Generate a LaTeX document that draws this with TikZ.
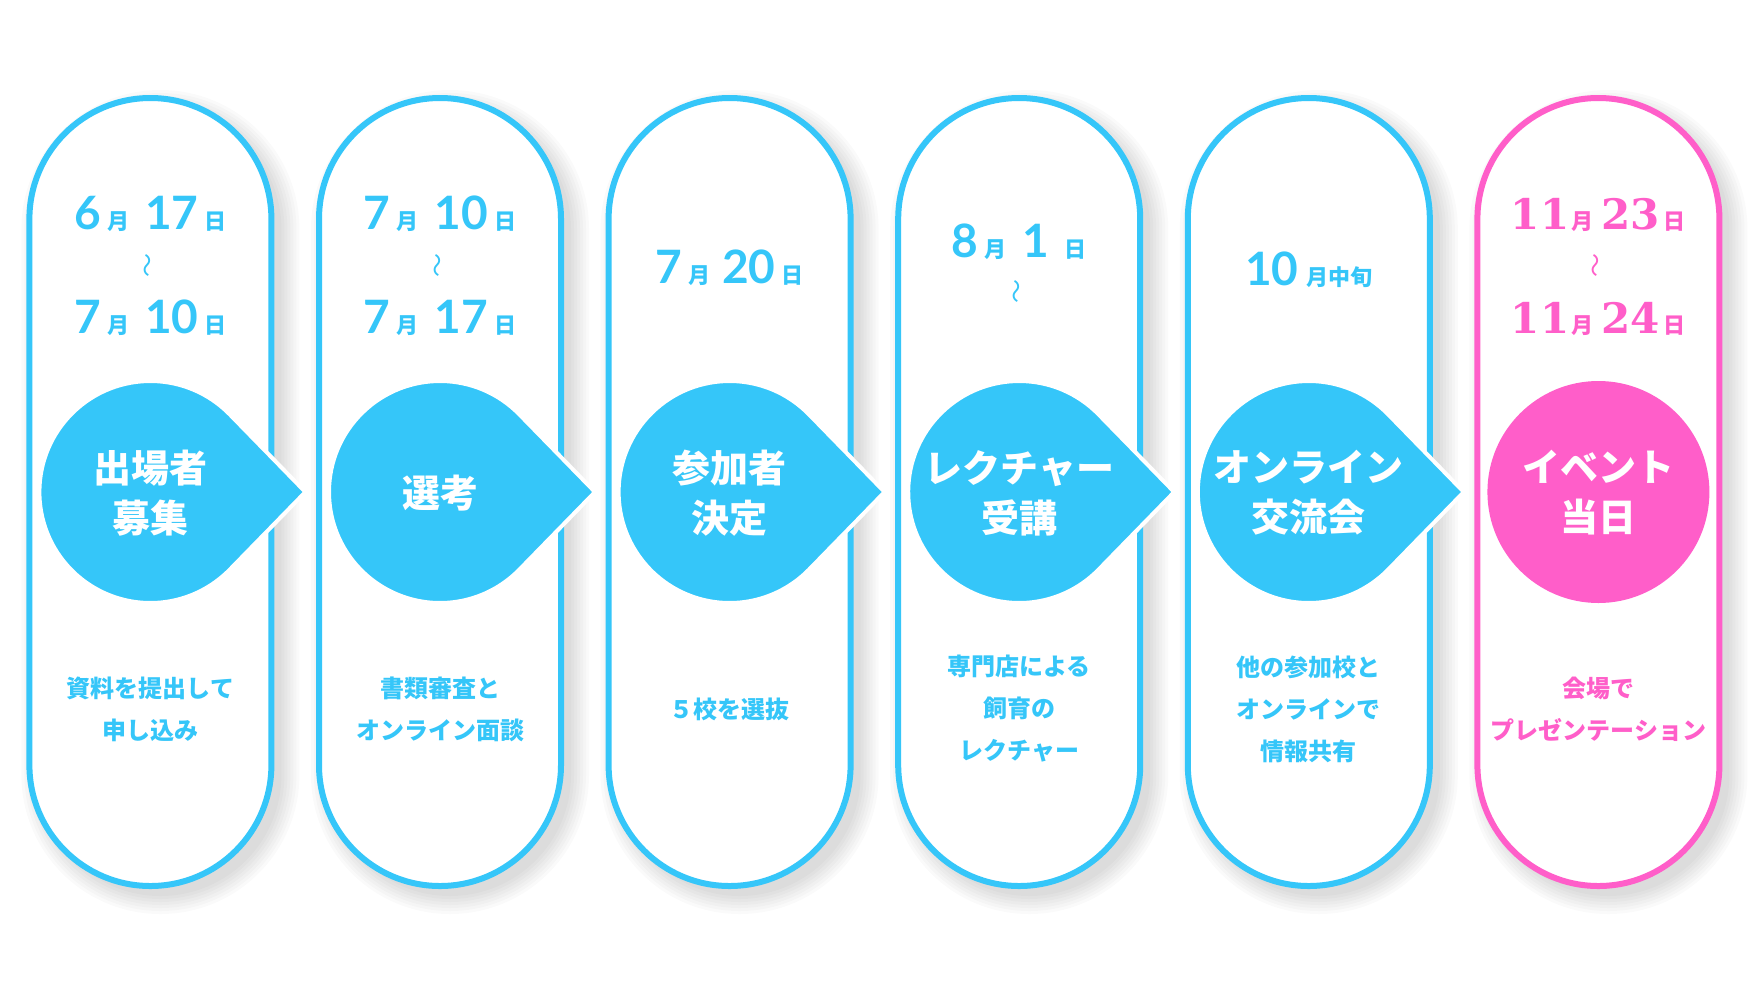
\documentclass[tikz,border=0pt]{standalone}
\usepackage{fontspec}
\newfontfamily\jp{Noto Sans CJK JP}
\newfontfamily\latnum{Lato}
\newfontfamily\serifnum{DejaVu Serif}
\usetikzlibrary{calc}
\definecolor{sky}{RGB}{53,198,249}
\definecolor{rose}{RGB}{255,94,201}
\newcommand\bnum[1]{{\latnum\bfseries\fontsize{23}{23}\selectfont #1}}
\newcommand\pnum[1]{{\serifnum\bfseries\fontsize{21}{21}\selectfont #1}}
\newcommand\unitjp[1]{{\jp\bfseries\fontsize{11}{11}\selectfont #1}}
\begin{document}
\begin{tikzpicture}[x=0.5pt,y=0.5pt,
  datel/.style={anchor=base,inner sep=0pt},
  wave/.style={rotate=90,inner sep=0pt,font=\jp\fontsize{12}{12}\selectfont},
  title/.style={align=center,text=white,inner sep=0pt,font=\jp\bfseries\fontsize{19}{25}\selectfont},
  desc/.style={align=center,inner sep=0pt,font=\jp\bfseries\fontsize{12}{21}\selectfont},
  panelbox/.style={line width=3pt,fill=white,rounded corners=60.5pt},
  pointer/.style={draw=white,line width=2pt,line join=round}]
\useasboundingbox[fill=white] (0,0) rectangle (1754,-986);
% shadows
\foreach \i in {0,...,5}{
  \pgfmathsetmacro\cx{150.4+289.6*\i}
  \foreach \k in {0,...,6}{
    \pgfmathsetmacro\rr{60.5+1.5*\k}
    \fill[black,opacity=0.02,rounded corners=\rr pt]
      (\cx-121+10-3*\k,-98-10+3*\k) rectangle (\cx+121+10+3*\k,-886-10-3*\k);
  }
}
% panels
\foreach \i/\col in {0/sky,1/sky,2/sky,3/sky,4/sky,5/rose}{
  \pgfmathsetmacro\cx{150.4+289.6*\i}
  \draw[panelbox,draw=\col] (\cx-121,-98) rectangle (\cx+121,-886);
}
% pointers
\foreach \i in {0,...,4}{
  \pgfmathsetmacro\cx{150.4+289.6*\i}
  \filldraw[pointer,fill=sky] (\cx+155,-492) -- ($(\cx,-492)+(44.3:111)$)
    arc[start angle=44.3,end angle=315.7,radius=55.5pt] -- cycle;
}
\fill[rose] (1598.4,-492) circle[radius=55.5pt];

% panel 1
\node[datel,text=sky] (d1a) at (150.4,-229) {\bnum{6}\hspace{3pt}\unitjp{月}\hspace{8pt}\bnum{17}\hspace{3pt}\unitjp{日}};
\node[wave,text=sky] (d1w) at (150.4,-265) {～};
\node[datel,text=sky] (d1b) at (150.4,-333) {\bnum{7}\hspace{3pt}\unitjp{月}\hspace{8pt}\bnum{10}\hspace{3pt}\unitjp{日}};
\node[title] (t1) at (150.4,-493) {出場者\\募集};
\node[desc,text=sky] (s1) at (150.4,-709) {資料を提出して\\申し込み};
% panel 2
\node[datel,text=sky] (d2a) at (440,-229) {\bnum{7}\hspace{3pt}\unitjp{月}\hspace{8pt}\bnum{10}\hspace{3pt}\unitjp{日}};
\node[wave,text=sky] (d2w) at (440,-265) {～};
\node[datel,text=sky] (d2b) at (440,-333) {\bnum{7}\hspace{3pt}\unitjp{月}\hspace{8pt}\bnum{17}\hspace{3pt}\unitjp{日}};
\node[title] (t2) at (440,-493) {選考};
\node[desc,text=sky] (s2) at (440,-709) {書類審査と\\オンライン面談};
% panel 3
\node[datel,text=sky] (d3a) at (729.6,-283) {\bnum{7}\hspace{3pt}\unitjp{月}\hspace{6pt}\bnum{20}\hspace{3pt}\unitjp{日}};
\node[title] (t3) at (729.6,-493) {参加者\\決定};
\node[desc,text=sky] (s3) at (729.6,-709) {５校を選抜};
% panel 4
\node[datel,text=sky] (d4a) at (1019.2,-257) {\bnum{8}\hspace{3pt}\unitjp{月}\hspace{8pt}\bnum{1}\hspace{8pt}\unitjp{日}};
\node[wave,text=sky] (d4w) at (1019.2,-291) {～};
\node[title] (t4) at (1019.2,-493) {レクチャー\\受講};
\node[desc,text=sky] (s4) at (1019.2,-709) {専門店による\\飼育の\\レクチャー};
% panel 5
\node[datel,text=sky] (d5a) at (1308.8,-285) {\bnum{10}\hspace{4pt}\unitjp{月中旬}};
\node[title] (t5) at (1308.8,-493) {オンライン\\交流会};
\node[desc,text=sky] (s5) at (1308.8,-709) {他の参加校と\\オンラインで\\情報共有};
% panel 6
\node[datel,text=rose] (d6a) at (1598.4,-229) {\pnum{11}\hspace{1pt}\unitjp{月}\hspace{4pt}\pnum{23}\hspace{2pt}\unitjp{日}};
\node[wave,text=rose] (d6w) at (1598.4,-265) {～};
\node[datel,text=rose] (d6b) at (1598.4,-333) {\pnum{11}\hspace{1pt}\unitjp{月}\hspace{4pt}\pnum{24}\hspace{2pt}\unitjp{日}};
\node[title] (t6) at (1598.4,-493) {イベント\\当日};
\node[desc,text=rose] (s6) at (1598.4,-709) {会場で\\プレゼンテーション};
\end{tikzpicture}
\end{document}
